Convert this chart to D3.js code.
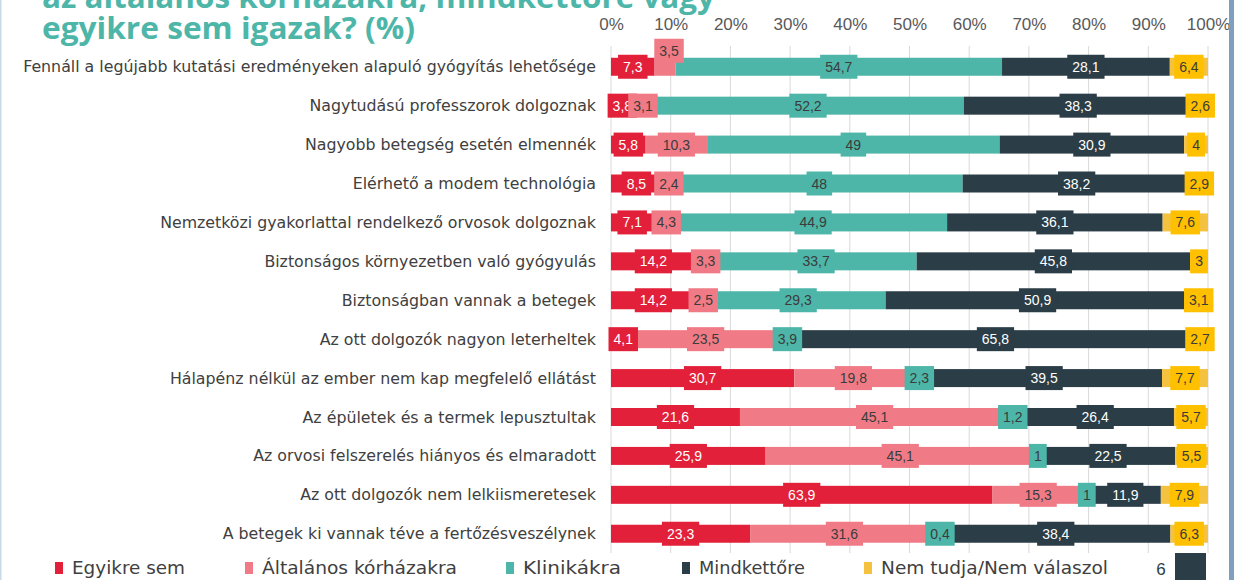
<!DOCTYPE html>
<html>
<head>
<meta charset="utf-8">
<script src="https://cdn.jsdelivr.net/npm/d3@7"></script>
<style>
  body { margin: 0; background: #fff; }
  svg { display: block; }
  .cat { font-family: "DejaVu Sans", sans-serif; font-size: 15.8px; fill: #404040; }
  .tick text { font-family: "Liberation Sans", Arial, sans-serif; font-size: 17px; fill: #595959; }
  .val { font-family: "Liberation Sans", Arial, sans-serif; font-size: 14px; }
  .leg { font-family: "DejaVu Sans", sans-serif; font-size: 17px; fill: #404040; }
  .title { font-family: "Open Sans", sans-serif; font-weight: 700; font-size: 30px; fill: #4db6a8; }
</style>
</head>
<body>
<div id="chart"></div>
<script>
// categories top to bottom
var categories = [
    "Fennáll a legújabb kutatási eredményeken alapuló gyógyítás lehetősége",
    "Nagytudású professzorok dolgoznak",
    "Nagyobb betegség esetén elmennék",
    "Elérhető a modem technológia",
    "Nemzetközi gyakorlattal rendelkező orvosok dolgoznak",
    "Biztonságos környezetben való gyógyulás",
    "Biztonságban vannak a betegek",
    "Az ott dolgozók nagyon leterheltek",
    "Hálapénz nélkül az ember nem kap megfelelő ellátást",
    "Az épületek és a termek lepusztultak",
    "Az orvosi felszerelés hiányos és elmaradott",
    "Az ott dolgozók nem lelkiismeretesek",
    "A betegek ki vannak téve a fertőzésveszélynek"
];

var seriesNames = ["Egyikre sem", "Általános kórházakra", "Klinikákra", "Mindkettőre", "Nem tudja/Nem válaszol"];

var egyikreSem  = [7.3, 3.8, 5.8, 8.5, 7.1, 14.2, 14.2, 4.1, 30.7, 21.6, 25.9, 63.9, 23.3];
var altalanos   = [3.5, 3.1, 10.3, 2.4, 4.3, 3.3, 2.5, 23.5, 19.8, 45.1, 45.1, 15.3, 31.6];
var klinikakra  = [54.7, 52.2, 49, 48, 44.9, 33.7, 29.3, 3.9, 2.3, 1.2, 1, 1, 0.4];
var mindketto   = [28.1, 38.3, 30.9, 38.2, 36.1, 45.8, 50.9, 65.8, 39.5, 26.4, 22.5, 11.9, 38.4];
var nemTudja    = [6.4, 2.6, 4, 2.9, 7.6, 3, 3.1, 2.7, 7.7, 5.7, 5.5, 7.9, 6.3];

var tickValues = [0, 10, 20, 30, 40, 50, 60, 70, 80, 90, 100];

var colors = ["#e3203a", "#f07b86", "#4db6a8", "#2b3d46", "#ffc000"];
var barColors = ["#e3203a", "#f07b86", "#4db6a8", "#2b3d46", "#f4c23e"];
var textColors = ["#ffffff", "#3b3b3b", "#3b3b3b", "#ffffff", "#3b3b3b"];

var W = 1234, H = 580;

var svg = d3.select("#chart").append("svg")
    .attr("width", W)
    .attr("height", H);

// table for the stack
var table = categories.map(function (c, i) {
    return {
        cat: c,
        s0: egyikreSem[i], s1: altalanos[i], s2: klinikakra[i], s3: mindketto[i], s4: nemTudja[i]
    };
});
var keys = ["s0", "s1", "s2", "s3", "s4"];
var stacked = d3.stack().keys(keys)(table);

var x = d3.scaleLinear().domain([0, 100]).range([611, 1208]);
var y = d3.scaleBand().domain(categories).range([47.3, 553.2]).padding(0);

var barH = 18, boxH = 24;

// gridlines
svg.append("g")
    .selectAll("line")
    .data(tickValues)
    .enter()
    .append("line")
    .attr("x1", function (d) { return x(d); })
    .attr("x2", function (d) { return x(d); })
    .attr("y1", 46)
    .attr("y2", 553)
    .attr("stroke", "#d9d9d9")
    .attr("stroke-width", 1);

// top axis labels
var axis = svg.append("g")
    .attr("transform", "translate(0,30)")
    .call(d3.axisTop(x).tickValues(tickValues).tickSize(0).tickPadding(0).tickFormat(function (d) { return d + "%"; }));
axis.select(".domain").remove();

// category labels
svg.append("g")
    .selectAll("text")
    .data(categories)
    .enter()
    .append("text")
    .attr("class", "cat")
    .attr("x", 596)
    .attr("y", function (d) { return y(d) + y.bandwidth() / 2; })
    .attr("dy", "0.35em")
    .attr("text-anchor", "end")
    .text(function (d) { return d; });

// bars
var layers = svg.append("g").selectAll("g")
    .data(stacked)
    .enter()
    .append("g")
    .attr("fill", function (d, i) { return barColors[i]; });

layers.selectAll("rect")
    .data(function (d) { return d; })
    .enter()
    .append("rect")
    .attr("x", function (d) { return x(d[0]); })
    .attr("width", function (d) { return x(d[1]) - x(d[0]); })
    .attr("y", function (d) { return y(d.data.cat) + y.bandwidth() / 2 - barH / 2; })
    .attr("height", barH);

// value labels with boxes
var fmt = function (v) { return String(v).replace(".", ","); };

stacked.forEach(function (layer, si) {
    var g = svg.append("g");
    layer.forEach(function (d, ri) {
        var cx = x((d[0] + d[1]) / 2);
        var cy = y(d.data.cat) + y.bandwidth() / 2;
        // first row: the small pink value sits above the bar
        if (ri === 0 && si === 1) { cy -= 16; cx += 4; }
        var lg = g.append("g");
        var rect = lg.append("rect").attr("fill", colors[si]);
        var t = lg.append("text")
            .attr("class", "val")
            .attr("x", cx)
            .attr("y", cy)
            .attr("dy", "0.36em")
            .attr("text-anchor", "middle")
            .attr("fill", textColors[si])
            .text(fmt(d.data[keys[si]]));
        var w = t.node().getComputedTextLength() + 10;
        rect.attr("x", cx - w / 2)
            .attr("y", cy - boxH / 2)
            .attr("width", w)
            .attr("height", boxH);
    });
});

// title (first line cut off at the top)
svg.append("text").attr("class", "title").attr("x", 42).attr("y", 8)
    .attr("textLength", 673).attr("lengthAdjust", "spacingAndGlyphs")
    .text("az általános kórházakra, mindkettőre vagy");
svg.append("text").attr("class", "title").attr("x", 42).attr("y", 39)
    .attr("textLength", 373).attr("lengthAdjust", "spacingAndGlyphs")
    .text("egyikre sem igazak? (%)");

// legend
var legX = [55, 245, 506, 682, 864];
var legW = [113, 195, 98, 106, 227];
var leg = svg.append("g").selectAll("g")
    .data(seriesNames)
    .enter()
    .append("g")
    .attr("transform", function (d, i) { return "translate(" + legX[i] + ",562)"; });
leg.append("rect")
    .attr("width", 8)
    .attr("height", 12)
    .attr("fill", function (d, i) { return barColors[i]; });
leg.append("text")
    .attr("class", "leg")
    .attr("x", 17)
    .attr("y", 6)
    .attr("dy", "0.36em")
    .attr("textLength", function (d, i) { return legW[i]; })
    .attr("lengthAdjust", "spacingAndGlyphs")
    .text(function (d) { return d; });

// page number and corner box
svg.append("text")
    .attr("x", 1161).attr("y", 569).attr("dy", "0.36em")
    .attr("text-anchor", "middle")
    .style("font-family", "'Liberation Sans', Arial, sans-serif")
    .style("font-size", "17px")
    .attr("fill", "#2b3d46")
    .text("6");
svg.append("rect")
    .attr("x", 1175).attr("y", 553).attr("width", 31).attr("height", 27)
    .attr("fill", "#2b3d46");

// right and left frame strips
svg.append("rect").attr("x", 1229).attr("y", 0).attr("width", 5).attr("height", H).attr("fill", "#7f9fbd");
svg.append("rect").attr("x", 0).attr("y", 0).attr("width", 1.5).attr("height", H).attr("fill", "#c9d9e6");
</script>
</body>
</html>
